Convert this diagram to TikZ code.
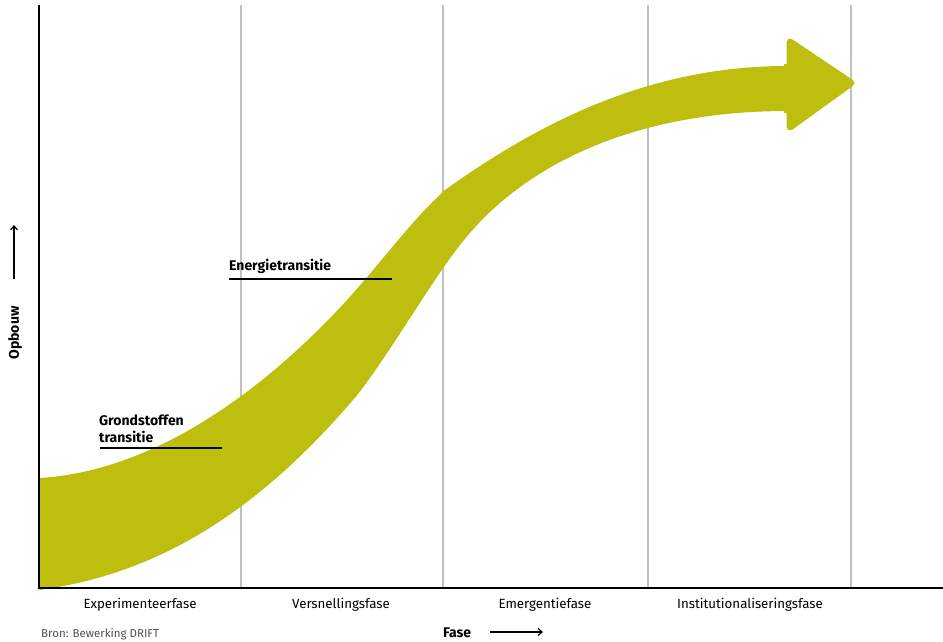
\documentclass[tikz,border=0pt]{standalone}
\usepackage{fontspec}
\setmainfont{Fira Sans}
\usetikzlibrary{arrows.meta}
\definecolor{olivegreen}{RGB}{189,190,13}
\definecolor{gridgray}{RGB}{192,192,192}
\definecolor{srcgray}{RGB}{80,80,80}
\tikzset{
  gridline/.style={draw=gridgray, line width=2pt},
  axisline/.style={draw=black, line width=2.6pt},
  labelline/.style={draw=black, line width=1.8pt},
  phase/.style={font=\fontsize{13.3}{15}\selectfont, inner sep=0pt, anchor=center},
  boldlabel/.style={font=\fontsize{14}{17}\selectfont\bfseries, inner sep=0pt, align=left},
  smallarrow/.style={draw=black, line width=1.2pt, -{Straight Barb[length=4pt,width=7pt]}}
}
\begin{document}
\begin{tikzpicture}[x=1pt,y=-1pt]
\useasboundingbox (0,0) rectangle (943,642);
% grid lines
\foreach \gx in {241,443,648,851} {
  \draw[gridline] (\gx,5) -- (\gx,588);
}
% band
\fill[olivegreen] (39,478) .. controls (150,472) and (260,395) .. (347,300)
  .. controls (385,258) and (410,222) .. (445,190)
  .. controls (540,122) and (650,66) .. (787,66)
  -- (787,111) .. controls (650,111) and (530,155) .. (460,245)
  .. controls (430,283) and (380,369) .. (353,400)
  .. controls (250,520) and (150,575) .. (39,590) -- cycle;
% arrow head
\filldraw[olivegreen, line width=7pt, line join=round] (790,42) -- (851,83) -- (790,127) -- cycle;
\fill[olivegreen] (784,64) rectangle (792,113);
% labels
\node[boldlabel, anchor=south west] (gronds) at (99,443) {Grondstoffen\\transitie};
\coordinate (gl1) at (100,448);
\coordinate (gl2) at (222,448);
\draw[labelline] (gl1) -- (gl2);
\node[boldlabel, anchor=south west] (energ) at (229,274) {Energietransitie};
\coordinate (el1) at (229,279);
\coordinate (el2) at (392,279);
\draw[labelline] (el1) -- (el2);
% axes
\coordinate (origin) at (39,588);
\coordinate (ytop) at (39,5);
\coordinate (xend) at (943,588);
\draw[axisline] (ytop) -- (origin) -- (xend);
% phase names
\node[phase] (p1) at (140,605) {Experimenteerfase};
\node[phase] (p2) at (341,605) {Versnellingsfase};
\node[phase] (p3) at (545,605) {Emergentiefase};
\node[phase] (p4) at (750,605) {Institutionaliseringsfase};
% source
\node[font=\fontsize{11.5}{13}\selectfont, text=srcgray, anchor=west, inner sep=0pt] (src) at (41,634) {Bron: Bewerking DRIFT};
% Fase axis label
\node[boldlabel, anchor=west] (fase) at (443,633) {Fase};
\coordinate (fa1) at (490,632);
\coordinate (fa2) at (543,632);
\draw[smallarrow] (fa1) -- (fa2);
% Opbouw
\node[boldlabel, rotate=90] (opbouw) at (15,333) {Opbouw};
\coordinate (oa1) at (14,279);
\coordinate (oa2) at (14,225);
\draw[smallarrow] (oa1) -- (oa2);
\end{tikzpicture}
\end{document}
